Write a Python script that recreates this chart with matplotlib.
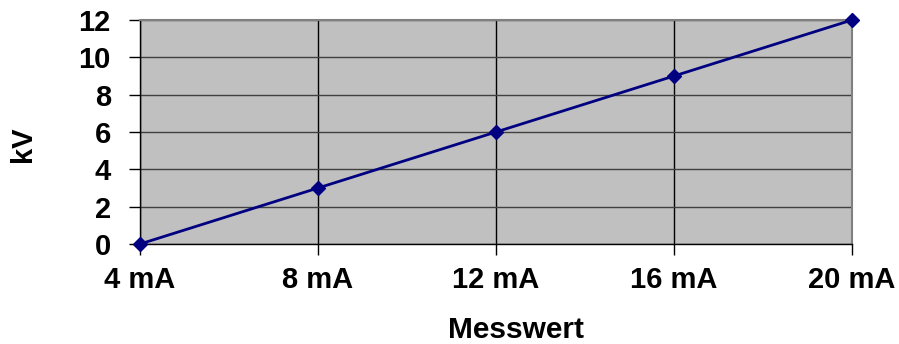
import matplotlib
matplotlib.use("Agg")
import matplotlib.pyplot as plt

categories = ["4 mA", "8 mA", "12 mA", "16 mA", "20 mA"]
kv_values = [0, 3, 6, 9, 12]
y_ticks = [0, 2, 4, 6, 8, 10, 12]

plt.rcParams['font.family'] = ['Liberation Sans', 'DejaVu Sans']
plt.rcParams['font.weight'] = 'bold'

fig = plt.figure(figsize=(8.99, 3.44), dpi=100)
ax = fig.add_axes([140/899, 1-244/344, 712/899, 224/344])
ax.set_facecolor('#c0c0c0')

x = list(range(len(categories)))
ax.plot(x, kv_values, color='#000080', linewidth=2, marker='D', markersize=7.5,
        zorder=3, clip_on=False)

ax.set_xlim(0, len(categories) - 1)
ax.set_ylim(0, 12)
ax.set_xticks(x)
ax.set_xticklabels(categories)
ax.set_yticks(y_ticks)

ax.grid(True, axis='y', color='#404040', linewidth=1)
ax.grid(True, axis='x', color='#000000', linewidth=1)
ax.set_axisbelow(True)

for s in ax.spines.values():
    s.set_color('#808080')
    s.set_linewidth(1.5)
ax.spines['left'].set_color('#000000')
ax.spines['bottom'].set_color('#000000')
ax.spines['left'].set_linewidth(1)
ax.spines['bottom'].set_linewidth(1)

ax.tick_params(axis='both', labelsize=21, length=8, width=1, color='#000000')
ax.tick_params(axis='x', pad=8)
ax.tick_params(axis='y', pad=13)
for lab in ax.get_xticklabels() + ax.get_yticklabels():
    lab.set_fontweight('bold')

ax.set_xlabel("Messwert", fontsize=21.5, fontweight='bold')
ax.set_ylabel("kV", fontsize=21, fontweight='bold')
ax.xaxis.set_label_coords((516 - 140) / 712, (244 - 330) / 224)
ax.xaxis.label.set_va('center')
ax.yaxis.set_label_coords((23 - 140) / 712, (244 - 144) / 224)
ax.yaxis.label.set_va('center')

fig.savefig("out.png", dpi=100)
